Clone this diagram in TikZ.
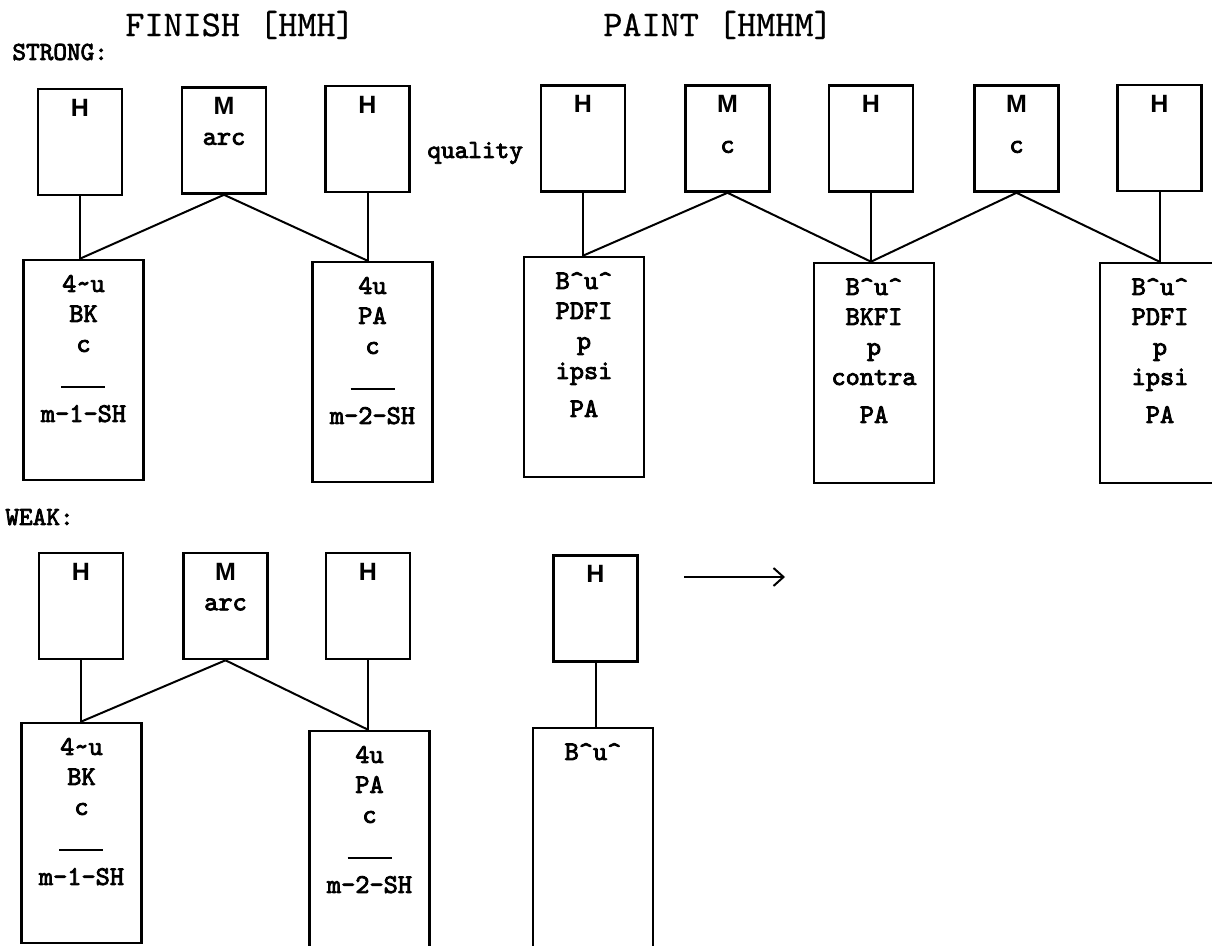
\documentclass[tikz,border=0pt]{standalone}
\usepackage{fontspec}
\setmainfont{Liberation Serif}
\newfontfamily\sansfam{Liberation Sans}
\newfontfamily\boldtt{lmmono10-regular}[Extension=.otf, FakeBold=3]
\newfontfamily\plaintt{lmmono10-regular}[Extension=.otf, FakeBold=0.6]
\usepackage{tikz}
\usetikzlibrary{positioning,arrows.meta}

\newcommand{\titlefont}{\plaintt\fontsize{18.2}{19}\selectfont}
\newcommand{\rowfont}{\boldtt\fontsize{13}{14}\selectfont}
\newcommand{\boxfont}{\boldtt\fontsize{13.5}{15}\selectfont}
\newcommand{\hmfont}{\sansfam\bfseries\fontsize{12.5}{15}\selectfont}
\newcommand{\fourtu}{4\textasciitilde u}
\newcommand{\bup}{B\textasciicircum u\textasciicircum}
\newcommand{\shrule}{\rule{22pt}{0.9pt}}

\begin{document}
\begin{tikzpicture}[x=0.5pt, y=-0.5pt,
    topbox/.style={draw, line width=1.3pt, minimum width=42pt, minimum height=53pt, inner sep=0pt},
    lowbox/.style={draw, line width=1.3pt, minimum width=60pt, minimum height=110pt, inner sep=0pt},
    toptxt/.style={anchor=north, align=center, inner sep=0pt, yshift=-5.5pt, font=\boxfont},
    lowtxt/.style={anchor=north, align=center, inner sep=0pt, yshift=-8pt, font=\boxfont},
    link/.style={line width=1pt}]

    \clip (0,0) rectangle (1212,946);

    % Ueberschriften
    \node[font=\titlefont] (tFinish) at (240,25) {FINISH [HMH]};
    \node[font=\titlefont] (tPaint) at (718,25) {PAINT [HMHM]};
    \node[font=\rowfont, anchor=west, inner sep=0pt] (strong) at (12,52) {STRONG:};
    \node[font=\rowfont, anchor=west, inner sep=0pt] (quality) at (427,153) {quality};
    \node[font=\rowfont, anchor=west, inner sep=0pt] (weak) at (5,517) {WEAK:};

    % STRONG: FINISH oben
    \node[topbox, label={[toptxt]north:{\hmfont H}}] (sfH1) at (80,142) {};
    \node[topbox, label={[toptxt]north:{\hmfont M}\\arc}] (sfM) at (224,140.5) {};
    \node[topbox, label={[toptxt]north:{\hmfont H}}] (sfH2) at (367.5,139) {};

    % STRONG: FINISH unten
    \node[lowbox, label={[lowtxt]north:\fourtu\\BK\\c\\[3pt]\shrule\\[2pt]m-1-SH}] (sfL) at (83.5,370) {};
    \node[lowbox, label={[lowtxt]north:4u\\PA\\c\\[3pt]\shrule\\[2pt]m-2-SH}] (sfR) at (372.5,372) {};

    % STRONG: PAINT oben
    \node[topbox, label={[toptxt]north:{\hmfont H}}] (spH1) at (583,138.5) {};
    \node[topbox, label={[toptxt]north:{\hmfont M}\\[5pt]c}] (spM1) at (727.5,138.5) {};
    \node[topbox, label={[toptxt]north:{\hmfont H}}] (spH2) at (871,138.5) {};
    \node[topbox, label={[toptxt]north:{\hmfont M}\\[5pt]c}] (spM2) at (1016.5,138.5) {};
    \node[topbox, label={[toptxt]north:{\hmfont H}}] (spH3) at (1159.5,138) {};

    % STRONG: PAINT unten
    \node[lowbox, label={[lowtxt]north:\bup\\PDFI\\p\\ipsi\\[4pt]PA}] (spL1) at (584,367) {};
    \node[lowbox, label={[lowtxt]north:\bup\\BKFI\\p\\contra\\[4pt]PA}] (spL2) at (874,373) {};
    \node[lowbox, label={[lowtxt]north:\bup\\PDFI\\p\\ipsi\\[4pt]PA}] (spL3) at (1160,373) {};

    % Verbindungen STRONG
    \draw[link] (sfH1.south) -- (sfH1.south |- sfL.north);
    \draw[link] (sfM.south) -- (sfH1.south |- sfL.north);
    \draw[link] (sfM.south) -- (sfH2.south |- sfR.north);
    \draw[link] (sfH2.south) -- (sfH2.south |- sfR.north);

    \draw[link] (spH1.south) -- (spH1.south |- spL1.north);
    \draw[link] (spM1.south) -- (spH1.south |- spL1.north);
    \draw[link] (spM1.south) -- (spH2.south |- spL2.north);
    \draw[link] (spH2.south) -- (spH2.south |- spL2.north);
    \draw[link] (spM2.south) -- (spH2.south |- spL2.north);
    \draw[link] (spM2.south) -- (spH3.south |- spL3.north);
    \draw[link] (spH3.south) -- (spH3.south |- spL3.north);

    % WEAK: FINISH
    \node[topbox, label={[toptxt]north:{\hmfont H}}] (wfH1) at (81,606) {};
    \node[topbox, label={[toptxt]north:{\hmfont M}\\arc}] (wfM) at (225.5,606) {};
    \node[topbox, label={[toptxt]north:{\hmfont H}}] (wfH2) at (368,606) {};
    \node[lowbox, label={[lowtxt]north:\fourtu\\BK\\c\\[3pt]\shrule\\[2pt]m-1-SH}] (wfL) at (81.5,833) {};
    \node[lowbox, label={[lowtxt]north:4u\\PA\\c\\[3pt]\shrule\\[2pt]m-2-SH}] (wfR) at (369.5,841) {};

    % WEAK: PAINT
    \node[topbox, label={[toptxt]north:{\hmfont H}}] (wpH1) at (595.5,608.5) {};
    \node[lowbox, label={[lowtxt]north:\bup}] (wpL1) at (593,838) {};
    \coordinate (arrS) at (684,577);
    \coordinate (arrE) at (785,577);

    % Verbindungen WEAK
    \draw[link] (wfH1.south) -- (wfH1.south |- wfL.north);
    \draw[link] (wfM.south) -- (wfH1.south |- wfL.north);
    \draw[link] (wfM.south) -- (wfH2.south |- wfR.north);
    \draw[link] (wfH2.south) -- (wfH2.south |- wfR.north);
    \draw[link] (wpH1.south) -- (wpH1.south |- wpL1.north);
    \draw[link, -{Straight Barb[length=5pt, width=9pt]}] (arrS) -- (arrE);

\end{tikzpicture}
\end{document}
